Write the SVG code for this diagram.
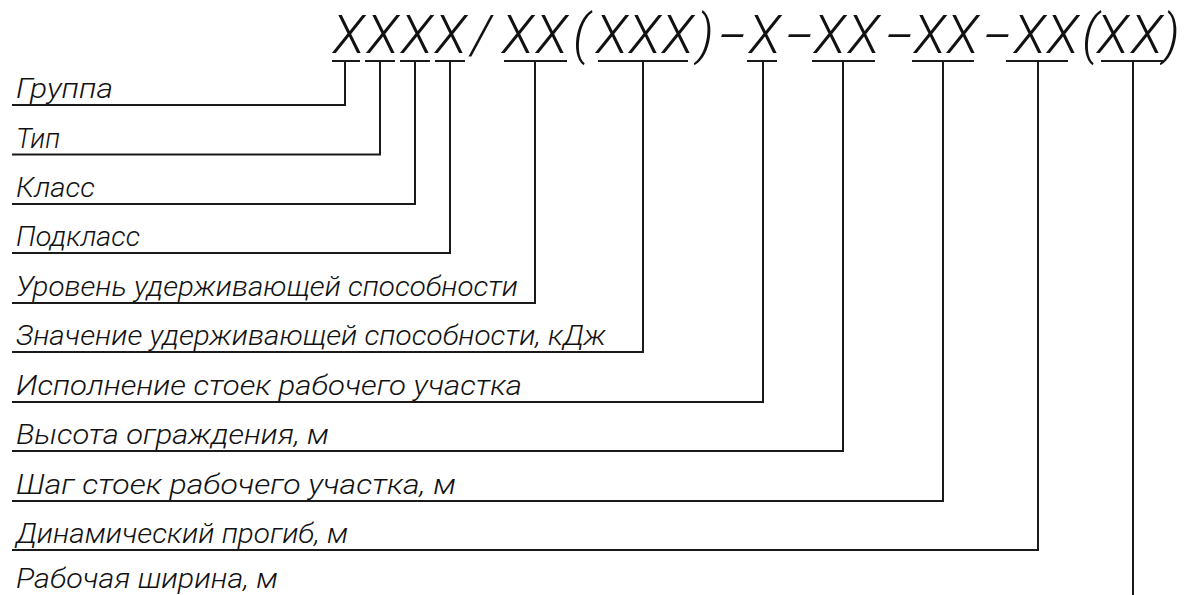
<svg xmlns="http://www.w3.org/2000/svg" width="1186" height="595" viewBox="0 0 1186 595">
<style>
  .code { font-family: Roboto, "Liberation Sans", sans-serif; font-style: italic; font-weight: 300; font-size: 53px; fill: #111; }
  .lbl { font-family: Roboto, "Liberation Sans", sans-serif; font-style: italic; font-weight: 300; font-size: 28px; fill: #111; }
  .ln { fill: none; stroke: #1a1a1a; stroke-width: 2; }
</style>
<rect width="1186" height="595" fill="#fff"/>
<g id="code">
  <text class="code" y="53" x="333 367 401 435 471 502 536 573 596 629 662 697">XXXX/XX(XXX)</text>
  <text class="code" transform="translate(719,53) scale(1.8,1)">-</text>
  <text class="code" y="53" x="749">X</text>
  <text class="code" transform="translate(786,53) scale(1.8,1)">-</text>
  <text class="code" y="53" x="814 848">XX</text>
  <text class="code" transform="translate(886,53) scale(1.8,1)">-</text>
  <text class="code" y="53" x="914 947">XX</text>
  <text class="code" transform="translate(984,53) scale(1.8,1)">-</text>
  <text class="code" y="53" x="1014 1047 1082 1097 1131 1163">XX(XX)</text>
  <path class="ln" d="M332 61H360M365 61H395M400 61H430M435 61H465M504 61H567M598 61H688M747 61H777M812 61H875M912 61H974M1006 61H1068M1101 61H1163"/>
</g>
<g id="label-1"><text class="lbl" x="16" y="98" textLength="97" lengthAdjust="spacingAndGlyphs">Группа</text></g>
<g id="label-2"><text class="lbl" x="16" y="147.5" textLength="44" lengthAdjust="spacingAndGlyphs">Тип</text></g>
<g id="label-3"><text class="lbl" x="16" y="197" textLength="79" lengthAdjust="spacingAndGlyphs">Класс</text></g>
<g id="label-4"><text class="lbl" x="16" y="246" textLength="124" lengthAdjust="spacingAndGlyphs">Подкласс</text></g>
<g id="label-5"><text class="lbl" x="16" y="296" textLength="502" lengthAdjust="spacingAndGlyphs">Уровень удерживающей способности</text></g>
<g id="label-6"><text class="lbl" x="16" y="345" textLength="590" lengthAdjust="spacingAndGlyphs">Значение удерживающей способности, кДж</text></g>
<g id="label-7"><text class="lbl" x="16" y="395" textLength="506" lengthAdjust="spacingAndGlyphs">Исполнение стоек рабочего участка</text></g>
<g id="label-8"><text class="lbl" x="16" y="444" textLength="313" lengthAdjust="spacingAndGlyphs">Высота ограждения, м</text></g>
<g id="label-9"><text class="lbl" x="16" y="494" textLength="440" lengthAdjust="spacingAndGlyphs">Шаг стоек рабочего участка, м</text></g>
<g id="label-10"><text class="lbl" x="16" y="543" textLength="332" lengthAdjust="spacingAndGlyphs">Динамический прогиб, м</text></g>
<g id="label-11"><text class="lbl" x="16" y="588" textLength="262" lengthAdjust="spacingAndGlyphs">Рабочая ширина, м</text></g>
<g id="connectors">
  <polyline class="ln" points="345,61 345,105 12,105"/>
  <polyline class="ln" points="380,61 380,154.5 12,154.5"/>
  <polyline class="ln" points="415,61 415,204 12,204"/>
  <polyline class="ln" points="450,61 450,253 12,253"/>
  <polyline class="ln" points="535,61 535,303 12,303"/>
  <polyline class="ln" points="643,61 643,352 12,352"/>
  <polyline class="ln" points="763,61 763,402 12,402"/>
  <polyline class="ln" points="843,61 843,451 12,451"/>
  <polyline class="ln" points="943,61 943,501 12,501"/>
  <polyline class="ln" points="1038,61 1038,550 12,550"/>
  <polyline class="ln" points="1133,61 1133,595"/>
</g>
</svg>
